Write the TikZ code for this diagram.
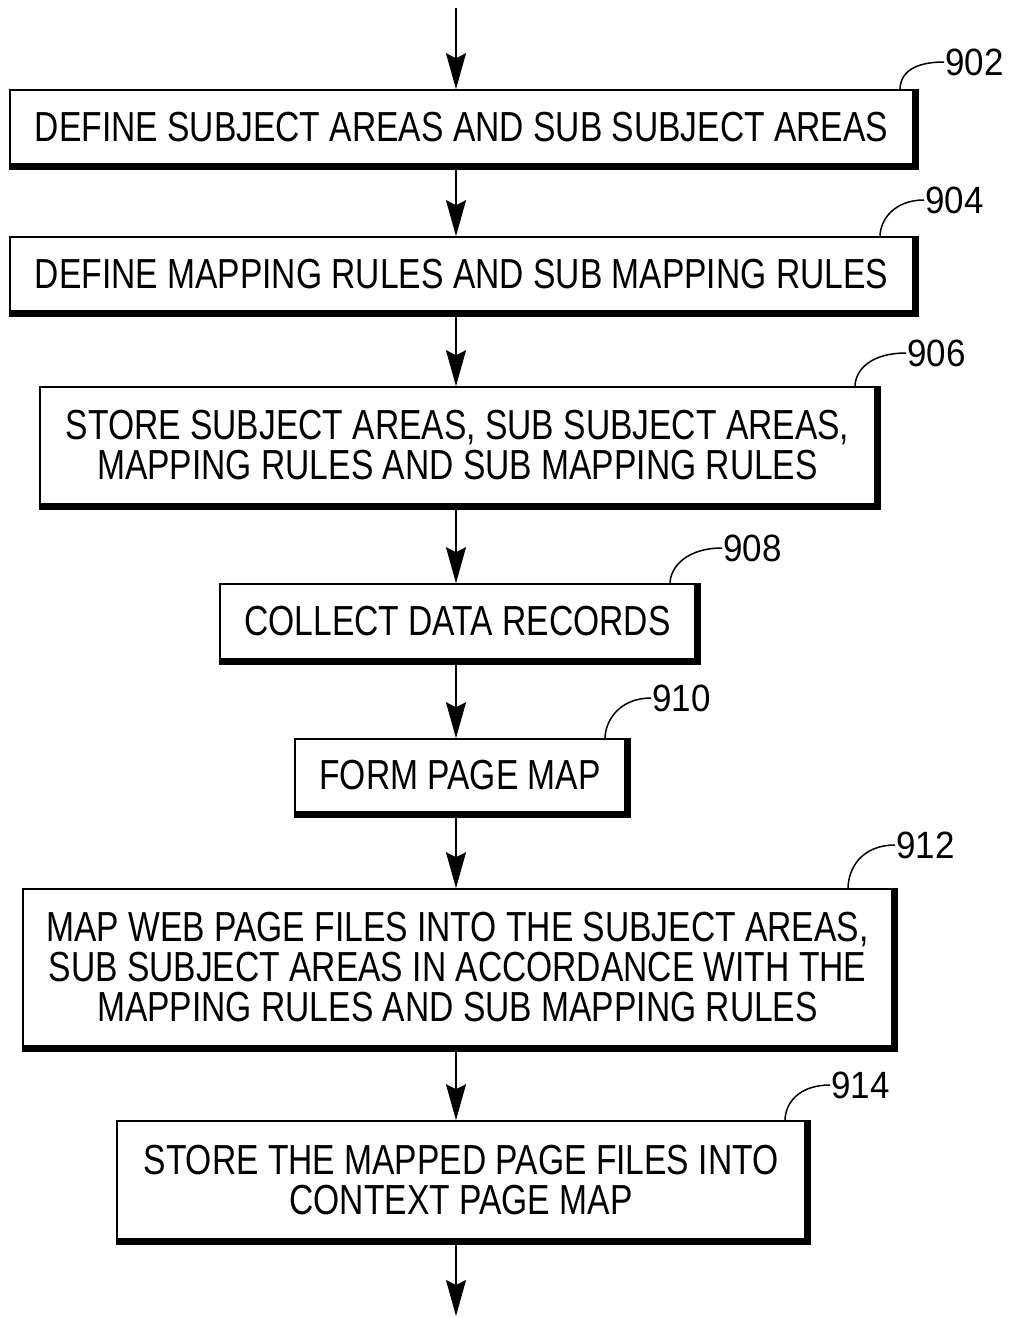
\documentclass[tikz,border=0pt]{standalone}
\usepackage{fontspec}
\setmainfont{Liberation Sans}[FakeStretch=0.8]
\newfontfamily\labfont{Liberation Sans}[FakeStretch=0.92]
\usetikzlibrary{arrows.meta}
\tikzset{
  stepbox/.style={draw, line width=1.6pt, inner sep=0pt, align=center,
    font=\fontsize{42}{40}\selectfont},
  flow/.style={line width=1.8pt, -{Stealth[length=36pt,width=20pt,inset=5pt]}},
  leader/.style={line width=1.5pt},
  reflabel/.style={anchor=west, inner sep=1pt, font=\labfont\fontsize{38}{40}\selectfont},
}
\newcommand{\shadowbox}[1]{%
  \fill ([yshift=0.8pt]#1.south west) rectangle ([xshift=5pt,yshift=-5pt]#1.south east);
  \fill ([xshift=-0.8pt]#1.north east) rectangle ([xshift=5pt,yshift=-5pt]#1.south east);}
\begin{document}
\begin{tikzpicture}[x=1pt,y=-1pt]
\useasboundingbox (0,0) rectangle (1011,1318);
\coordinate (ax) at (456,0);
\coordinate (top) at (456,8);
\coordinate (bot) at (456,1316);

\node[stepbox, minimum width=903pt, minimum height=74pt] (b902) at (461.5,127) {DEFINE SUBJECT AREAS AND SUB SUBJECT AREAS};
\node[stepbox, minimum width=903pt, minimum height=74pt] (b904) at (461.5,274) {DEFINE MAPPING RULES AND SUB MAPPING RULES};
\node[stepbox, minimum width=835pt, minimum height=117pt] (b906) at (457.5,445.5) {STORE SUBJECT AREAS, SUB SUBJECT AREAS,\\MAPPING RULES AND SUB MAPPING RULES};
\node[stepbox, minimum width=475pt, minimum height=75pt] (b908) at (457.5,621.5) {COLLECT DATA RECORDS};
\node[stepbox, minimum width=330pt, minimum height=73pt] (b910) at (460,775.5) {FORM PAGE MAP};
\node[stepbox, minimum width=869pt, minimum height=157pt] (b912) at (457.5,967.5) {MAP WEB PAGE FILES INTO THE SUBJECT AREAS,\\SUB SUBJECT AREAS IN ACCORDANCE WITH THE\\MAPPING RULES AND SUB MAPPING RULES};
\node[stepbox, minimum width=688pt, minimum height=118pt] (b914) at (461,1180) {STORE THE MAPPED PAGE FILES INTO\\CONTEXT PAGE MAP};

\foreach \n in {b902,b904,b906,b908,b910,b912,b914} {\shadowbox{\n}}

\draw[flow] (top) -- (b902.north -| ax);
\draw[flow] (b902.south -| ax) -- (b904.north -| ax);
\draw[flow] (b904.south -| ax) -- (b906.north -| ax);
\draw[flow] (b906.south -| ax) -- (b908.north -| ax);
\draw[flow] (b908.south -| ax) -- (b910.north -| ax);
\draw[flow] (b910.south -| ax) -- (b912.north -| ax);
\draw[flow] (b912.south -| ax) -- (b914.north -| ax);
\draw[flow] (b914.south -| ax) -- (bot);

\node[reflabel] (l902) at (944,62) {902};
\node[reflabel] (l904) at (924,200) {904};
\node[reflabel] (l906) at (906,353) {906};
\node[reflabel] (l908) at (722,548) {908};
\node[reflabel] (l910) at (651,698) {910};
\node[reflabel] (l912) at (895,845) {912};
\node[reflabel] (l914) at (830,1085) {914};

\draw[leader] (900,90) .. controls (900,72) and (915,62) .. (l902.west);
\draw[leader] (880,237) .. controls (880,219) and (895,200) .. (l904.west);
\draw[leader] (855,387) .. controls (855,369) and (872,353) .. (l906.west);
\draw[leader] (670,584) .. controls (670,566) and (688,548) .. (l908.west);
\draw[leader] (605,739) .. controls (605,720) and (620,698) .. (l910.west);
\draw[leader] (848,889) .. controls (848,868) and (862,845) .. (l912.west);
\draw[leader] (785,1121) .. controls (785,1102) and (800,1085) .. (l914.west);
\end{tikzpicture}
\end{document}
